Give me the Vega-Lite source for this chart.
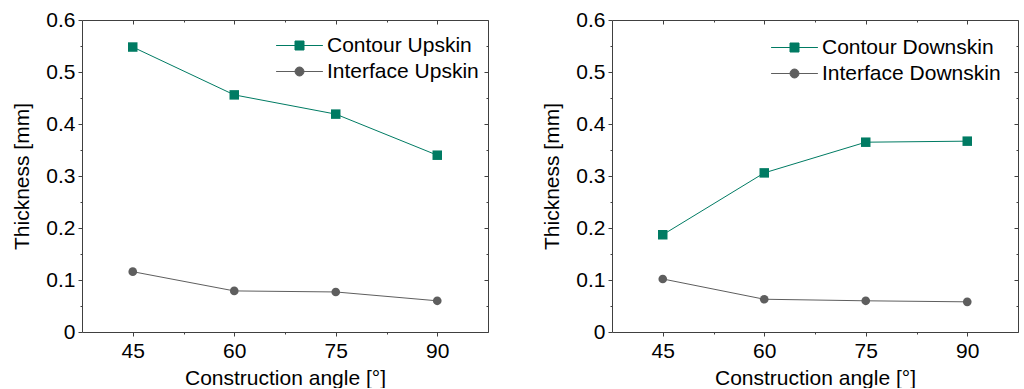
{
  "$schema": "https://vega.github.io/schema/vega-lite/v6.json",
  "padding": {"left": 11, "top": 9, "right": 0, "bottom": 0},
  "spacing": 52,
  "config": {
    "font": "Liberation Sans",
    "view": {"stroke": null},
    "axis": {
      "labelFontSize": 21, "titleFontSize": 21, "labelColor": "#000000", "titleColor": "#000000",
      "titleFontWeight": "normal", "domainColor": "#404040", "tickColor": "#404040",
      "domainWidth": 1, "tickWidth": 1, "grid": false, "labelOverlap": false, "labelBound": false, "labelFlush": false
    },
    "legend": {"labelFontSize": 21, "labelColor": "#000000", "labelLimit": 0, "symbolSize": 81, "labelOffset": 17, "symbolStrokeWidth": 1, "symbolOpacity": 1}
  },
  "datasets": {
    "up": [
      {"series": "Contour Upskin", "angle": 45, "thickness": 0.548},
      {"series": "Contour Upskin", "angle": 60, "thickness": 0.456},
      {"series": "Contour Upskin", "angle": 75, "thickness": 0.419},
      {"series": "Contour Upskin", "angle": 90, "thickness": 0.340},
      {"series": "Interface Upskin", "angle": 45, "thickness": 0.116},
      {"series": "Interface Upskin", "angle": 60, "thickness": 0.079},
      {"series": "Interface Upskin", "angle": 75, "thickness": 0.077},
      {"series": "Interface Upskin", "angle": 90, "thickness": 0.060}
    ],
    "down": [
      {"series": "Contour Downskin", "angle": 45, "thickness": 0.187},
      {"series": "Contour Downskin", "angle": 60, "thickness": 0.306},
      {"series": "Contour Downskin", "angle": 75, "thickness": 0.365},
      {"series": "Contour Downskin", "angle": 90, "thickness": 0.367},
      {"series": "Interface Downskin", "angle": 45, "thickness": 0.102},
      {"series": "Interface Downskin", "angle": 60, "thickness": 0.063},
      {"series": "Interface Downskin", "angle": 75, "thickness": 0.060},
      {"series": "Interface Downskin", "angle": 90, "thickness": 0.058}
    ]
  },
  "resolve": {"scale": {"color": "independent", "opacity": "independent"}, "legend": {"color": "independent", "opacity": "independent"}},
  "hconcat": [
    {
      "width": 406, "height": 312,
      "data": {"name": "up"},
      "resolve": {"axis": {"x": "independent", "y": "independent"}},
      "layer": [
        {
          "mark": {"type": "line", "strokeWidth": 1},
          "encoding": {
            "x": {"field": "angle", "type": "quantitative", "scale": {"domain": [37.5, 97.5], "nice": false, "zero": false},
              "axis": {"orient": "bottom", "values": [45, 52.5, 60, 67.5, 75, 82.5, 90], "title": "Construction angle [°]",
                "labelExpr": "datum.value % 15 === 0 ? datum.label : ''", "labelPadding": 4, "titlePadding": 6,
                "tickSize": {"condition": {"test": "datum.value % 15 !== 0", "value": 2}, "value": 4}}},
            "y": {"field": "thickness", "type": "quantitative", "scale": {"domain": [0, 0.6], "nice": false},
              "axis": {"orient": "left", "values": [0, 0.05, 0.1, 0.15, 0.2, 0.25, 0.3, 0.35, 0.4, 0.45, 0.5, 0.55, 0.6], "format": "~g",
                "title": "Thickness [mm]", "labelExpr": "round(datum.value * 100) % 10 === 0 ? datum.label : ''", "labelPadding": 3, "titlePadding": 13,
                "tickSize": {"condition": {"test": "round(datum.value * 100) % 10 !== 0", "value": 2}, "value": 4}}},
            "detail": {"field": "series", "type": "nominal"},
            "color": {"condition": {"test": "indexof(datum.series, 'Contour') === 0", "value": "#007B63"}, "value": "#5E5E5E"}
          }
        },
        {
          "mark": {"type": "point", "filled": true, "opacity": 1},
          "encoding": {
            "x": {"field": "angle", "type": "quantitative",
              "axis": {"orient": "top", "values": [45, 52.5, 60, 67.5, 75, 82.5, 90], "labels": false, "title": null,
                "tickSize": {"condition": {"test": "datum.value % 15 !== 0", "value": -2}, "value": -4}}},
            "y": {"field": "thickness", "type": "quantitative",
              "axis": {"orient": "right", "values": [0, 0.05, 0.1, 0.15, 0.2, 0.25, 0.3, 0.35, 0.4, 0.45, 0.5, 0.55, 0.6], "labels": false, "title": null,
                "tickSize": {"condition": {"test": "round(datum.value * 100) % 10 !== 0", "value": -2}, "value": -4}}},
            "color": {"field": "series", "type": "nominal",
              "scale": {"domain": ["Contour Upskin", "Interface Upskin"], "range": ["#007B63", "#5E5E5E"]},
              "legend": {"title": null, "orient": "none", "legendX": 207, "legendY": 15, "values": ["Contour Upskin"],
                "symbolType": "M-5.2,0H5.2M-1,-1H1V1H-1Z", "symbolStrokeColor": "#007B63"}},
            "opacity": {"field": "series", "type": "nominal",
              "scale": {"domain": ["Interface Upskin", "Contour Upskin"], "range": [1, 1]},
              "legend": {"title": null, "orient": "none", "legendX": 207, "legendY": 41, "values": ["Interface Upskin"],
                "symbolType": "M-5.2,0H5.2M-1,0A1,1 0 1,1 1,0A1,1 0 1,1 -1,0Z", "symbolStrokeColor": "#5E5E5E", "symbolFillColor": "#5E5E5E"}},
            "shape": {"condition": {"test": "indexof(datum.series, 'Contour') === 0", "value": "square"}, "value": "circle"},
            "size": {"condition": {"test": "indexof(datum.series, 'Contour') === 0", "value": 90}, "value": 75}
          }
        }
      ]
    },
    {
      "width": 406, "height": 312,
      "data": {"name": "down"},
      "resolve": {"axis": {"x": "independent", "y": "independent"}},
      "layer": [
        {
          "mark": {"type": "line", "strokeWidth": 1},
          "encoding": {
            "x": {"field": "angle", "type": "quantitative", "scale": {"domain": [37.5, 97.5], "nice": false, "zero": false},
              "axis": {"orient": "bottom", "values": [45, 52.5, 60, 67.5, 75, 82.5, 90], "title": "Construction angle [°]",
                "labelExpr": "datum.value % 15 === 0 ? datum.label : ''", "labelPadding": 4, "titlePadding": 6,
                "tickSize": {"condition": {"test": "datum.value % 15 !== 0", "value": 2}, "value": 4}}},
            "y": {"field": "thickness", "type": "quantitative", "scale": {"domain": [0, 0.6], "nice": false},
              "axis": {"orient": "left", "values": [0, 0.05, 0.1, 0.15, 0.2, 0.25, 0.3, 0.35, 0.4, 0.45, 0.5, 0.55, 0.6], "format": "~g",
                "title": "Thickness [mm]", "labelExpr": "round(datum.value * 100) % 10 === 0 ? datum.label : ''", "labelPadding": 3, "titlePadding": 13,
                "tickSize": {"condition": {"test": "round(datum.value * 100) % 10 !== 0", "value": 2}, "value": 4}}},
            "detail": {"field": "series", "type": "nominal"},
            "color": {"condition": {"test": "indexof(datum.series, 'Contour') === 0", "value": "#007B63"}, "value": "#5E5E5E"}
          }
        },
        {
          "mark": {"type": "point", "filled": true, "opacity": 1},
          "encoding": {
            "x": {"field": "angle", "type": "quantitative",
              "axis": {"orient": "top", "values": [45, 52.5, 60, 67.5, 75, 82.5, 90], "labels": false, "title": null,
                "tickSize": {"condition": {"test": "datum.value % 15 !== 0", "value": -2}, "value": -4}}},
            "y": {"field": "thickness", "type": "quantitative",
              "axis": {"orient": "right", "values": [0, 0.05, 0.1, 0.15, 0.2, 0.25, 0.3, 0.35, 0.4, 0.45, 0.5, 0.55, 0.6], "labels": false, "title": null,
                "tickSize": {"condition": {"test": "round(datum.value * 100) % 10 !== 0", "value": -2}, "value": -4}}},
            "color": {"field": "series", "type": "nominal",
              "scale": {"domain": ["Contour Downskin", "Interface Downskin"], "range": ["#007B63", "#5E5E5E"]},
              "legend": {"title": null, "orient": "none", "legendX": 172, "legendY": 17, "values": ["Contour Downskin"],
                "symbolType": "M-5.2,0H5.2M-1,-1H1V1H-1Z", "symbolStrokeColor": "#007B63"}},
            "opacity": {"field": "series", "type": "nominal",
              "scale": {"domain": ["Interface Downskin", "Contour Downskin"], "range": [1, 1]},
              "legend": {"title": null, "orient": "none", "legendX": 172, "legendY": 43, "values": ["Interface Downskin"],
                "symbolType": "M-5.2,0H5.2M-1,0A1,1 0 1,1 1,0A1,1 0 1,1 -1,0Z", "symbolStrokeColor": "#5E5E5E", "symbolFillColor": "#5E5E5E"}},
            "shape": {"condition": {"test": "indexof(datum.series, 'Contour') === 0", "value": "square"}, "value": "circle"},
            "size": {"condition": {"test": "indexof(datum.series, 'Contour') === 0", "value": 90}, "value": 75}
          }
        }
      ]
    }
  ]
}
